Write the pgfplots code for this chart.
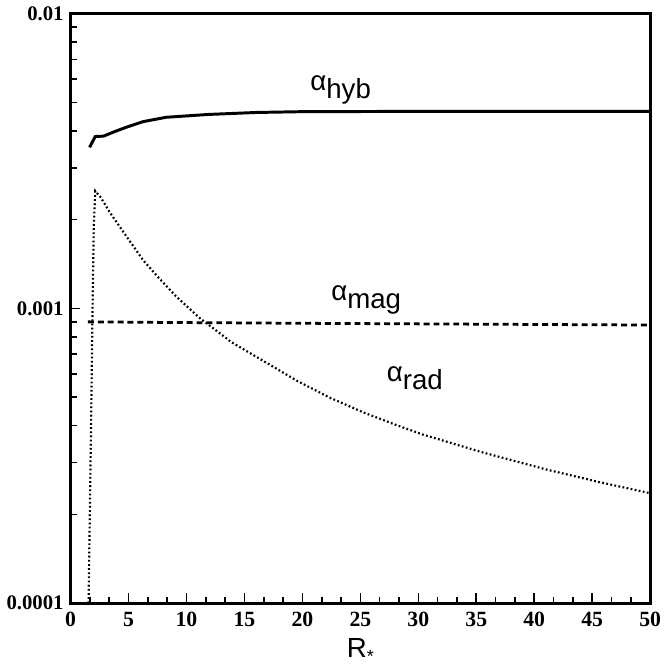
\documentclass[border=0pt]{standalone}
\usepackage{fontspec}
\setmainfont{Liberation Serif}
\newfontfamily\lab{Liberation Sans}
\usepackage{pgfplots}
\pgfplotsset{compat=1.18}

\begin{document}
\begin{tikzpicture}
\begin{axis}[
  scale only axis, width=293.5pt, height=298.5pt,
  ymode=log, xmin=0, xmax=50, ymin=0.0001, ymax=0.01,
  xtick={0,5,...,50}, minor x tick num=2,
  ytick={0.0001,0.001,0.01}, yticklabels={0.0001,0.001,0.01},
  tick pos=left, tick align=inside,
  major tick length=5pt, minor tick length=3pt,
  every tick/.style={black, line width=0.8pt},
  axis line style={line width=1.6pt},
  /pgf/number format/assume math mode=true,
  yticklabel style={font=\bfseries\fontsize{10.5}{12}\selectfont},
  xticklabel style={font=\bfseries\fontsize{11}{12}\selectfont, yshift=-1pt},
  xlabel={\lab\fontsize{14}{16}\selectfont R\raisebox{-0.35ex}{\fontsize{9}{9}\selectfont *}},
  xlabel style={yshift=1pt},
  clip=false,
]
% alpha_hyb
\addplot[black, line width=1.5pt] coordinates {
(1.64,0.00352) (2.13,0.00383) (2.84,0.00384) (3.8,0.00398) (4.83,0.00412)
(6.24,0.00430) (8.24,0.00445) (11.9,0.00455) (16,0.00462) (20,0.00465)
(30,0.00466) (40,0.00466) (50,0.00466)};
% alpha_mag
\addplot[black, line width=1.4pt, dash pattern=on 3pt off 2pt] coordinates {
(1.5,0.000900) (10,0.000895) (20,0.000890) (30,0.000886) (40,0.000882) (50,0.000878)};
% alpha_rad
\addplot[black, line width=1.1pt, dash pattern=on 0.9pt off 1.2pt] coordinates {
(1.55,0.0001) (1.66,0.0002) (1.76,0.00038) (1.88,0.0009) (2.0,0.0019) (2.13,0.0025)
(2.6,0.00238) (3.41,0.00211) (4.8,0.00176) (6.24,0.00146) (7.6,0.00127) (9.09,0.00110)
(11.1,0.00093) (13.9,0.000767) (16.75,0.000659) (19.6,0.000566)
(22.4,0.000497) (25.3,0.000443) (28.1,0.000402) (30.4,0.000373)
(35.5,0.000325) (41.2,0.000283) (45.5,0.000258) (50,0.000236)};
\node[font=\lab\fontsize{14}{16}\selectfont] at (axis cs:23.3,0.0055) {α\raisebox{-0.55ex}{hyb}};
\node[font=\lab\fontsize{14}{16}\selectfont] at (axis cs:25.5,0.00107) {α\raisebox{-0.55ex}{mag}};
\node[font=\lab\fontsize{14}{16}\selectfont] at (axis cs:29.7,0.00058) {α\raisebox{-0.55ex}{rad}};
\end{axis}
\end{tikzpicture}
\end{document}
